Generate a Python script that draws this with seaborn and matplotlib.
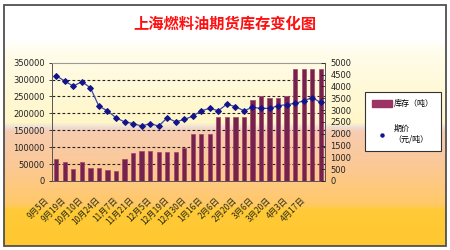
import numpy as np
import pandas as pd
import matplotlib
matplotlib.use("Agg")
import matplotlib.pyplot as plt
import matplotlib.transforms as mtrans
from matplotlib.colors import to_rgb
from matplotlib.patches import Rectangle
from matplotlib.lines import Line2D
import seaborn as sns

# ---------------- data ----------------
dates = ["9月5日", "9月12日", "9月19日", "9月26日", "10月10日", "10月17日", "10月24日", "10月31日",
         "11月7日", "11月14日", "11月21日", "11月28日", "12月5日", "12月12日", "12月19日", "12月26日",
         "12月30日", "1月9日", "1月16日", "1月23日", "2月6日", "2月13日", "2月20日", "2月27日",
         "3月6日", "3月13日", "3月20日", "3月27日", "4月3日", "4月10日", "4月17日", "4月24日"]
stock = [65000, 55000, 36000, 56000, 39000, 39000, 32000, 29000,
         65000, 84000, 89000, 89000, 87000, 87000, 87000, 99000,
         140000, 140000, 140000, 190000, 190000, 190000, 190000, 240000,
         250000, 245000, 245000, 250000, 332000, 332000, 332000, 332000]
price = [4450, 4220, 4010, 4200, 3940, 3160, 2970, 2670,
         2500, 2430, 2320, 2430, 2320, 2670, 2500, 2600,
         2740, 2970, 3070, 2970, 3250, 3140, 2970, 3110,
         3070, 3070, 3180, 3230, 3280, 3390, 3520, 3320]
left_ticks = [0, 50000, 100000, 150000, 200000, 250000, 300000, 350000]
right_ticks = [0, 500, 1000, 1500, 2000, 2500, 3000, 3500, 4000, 4500, 5000]
title = "上海燃料油期货库存变化图"
label_stock = "库存（吨）"
label_price = "期价\n（元/吨）"

df = pd.DataFrame({"date": dates, "stock": stock, "price": price, "pos": np.arange(len(dates))})

# ---------------- figure ----------------
plt.rcParams["font.family"] = ["DejaVu Sans", "Noto Sans CJK SC"]
W, H = 450, 250
fig = plt.figure(figsize=(W / 100, H / 100), dpi=100, facecolor="white")

# background gradient inside the frame
stops = [(5, "#FFFFFF"), (38, "#FFFFFF"), (55, "#FFFCE8"), (122, "#FFF6C8"), (127, "#EDDCD4"),
         (131, "#F7CDB0"), (165, "#FBC896"), (190, "#FFC878"), (204, "#FFC866"), (209, "#FFCA38"),
         (246, "#FFC830")]
rows = np.arange(5, 246)
ys = [s[0] for s in stops]
cols = np.array([to_rgb(s[1]) for s in stops])
grad = np.stack([np.interp(rows, ys, cols[:, k]) for k in range(3)], axis=-1)[:, None, :]
bg = fig.add_axes([4 / W, 4 / H, 442 / W, 241 / H], zorder=-10)
bg.imshow(grad, aspect="auto", extent=[0, 1, 0, 1], origin="upper")
bg.axis("off")
fig.patches.append(Rectangle((4 / W, 4 / H), 442 / W, 241 / H, transform=fig.transFigure,
                             fill=False, ec="#505050", lw=1.3, zorder=5))

fig.text(0.5, 1 - 24 / H, title, color="#FF1010", fontsize=11, fontweight="bold",
         ha="center", va="center", family=["Noto Sans CJK SC"])

ax = fig.add_axes([52 / W, 1 - 181 / H, (325 - 52) / W, (181 - 62.7) / H], zorder=1)
ax.patch.set_alpha(0)

sns.barplot(data=df, x="date", y="stock", ax=ax, color="#74244A", width=0.5,
            edgecolor="#A8406F", linewidth=0.5, saturation=1, zorder=3)
ax.set_xlim(-0.5, len(dates) - 0.5)
ax.set_ylim(0, 350000)
ax.set_yticks(left_ticks)
ax.set_yticklabels([str(v) for v in left_ticks])
ax.set_xlabel("")
ax.set_ylabel("")
for v in left_ticks[1:-1]:
    ax.axhline(v, color="#222222", lw=0.8, ls=(0, (2.5, 2)), zorder=1)
ax.tick_params(axis="y", labelsize=6, length=2.5, width=0.6, pad=2.5, colors="#222222")
ax.tick_params(axis="x", length=0)
for s in ["left", "bottom"]:
    ax.spines[s].set_color("#555555")
    ax.spines[s].set_linewidth(0.7)
ax.spines["top"].set_color("#999999")
ax.spines["top"].set_linewidth(0.8)
ax.spines["right"].set_visible(False)

# x labels: every other date, rotated
ax.set_xticks(df["pos"].values)
ax.set_xticklabels([d if i % 2 == 0 else "" for i, d in enumerate(dates)],
                   rotation=45, ha="right", va="center", rotation_mode="anchor",
                   fontsize=6, color="#2a2a10", family=["Noto Sans CJK SC"])
off = mtrans.ScaledTranslation(-8.5 / 100, -13 / 100, fig.dpi_scale_trans)
for lab in ax.get_xticklabels():
    lab.set_transform(lab.get_transform() + off)

ax2 = ax.twinx()
sns.lineplot(data=df, x="pos", y="price", ax=ax2, color="#3848A8", lw=0.9, marker="D",
             markersize=3.0, markerfacecolor="#14148A", markeredgecolor="#14148A", zorder=4)
ax2.set_ylim(0, 5000)
ax2.set_yticks(right_ticks)
ax2.set_yticklabels([str(v) for v in right_ticks])
ax2.set_ylabel("")
ax2.set_xlim(-0.5, len(dates) - 0.5)
ax2.tick_params(axis="y", labelsize=6, length=3, width=0.6, pad=4, direction="in", colors="#222222")
ax2.spines["right"].set_color("#555555")
ax2.spines["right"].set_linewidth(0.7)
for s in ["left", "top", "bottom"]:
    ax2.spines[s].set_visible(False)

handles = [Rectangle((0, 0), 1, 1, fc="#9B3464", ec="#9B3464"),
           Line2D([], [], ls="none", marker="o", markersize=2.2, color="#14148A")]
leg = fig.legend(handles, [label_stock, label_price], loc="upper left",
                 bbox_to_anchor=(365 / W, 1 - 92 / H), frameon=True,
                 fancybox=False, edgecolor="#333333", handlelength=2.4, handleheight=0.8,
                 labelspacing=2.0, borderpad=0.9, handletextpad=0.25, borderaxespad=0,
                 prop={"family": ["Noto Sans CJK SC"], "size": 5.8})
leg.get_frame().set_linewidth(0.8)
leg.get_frame().set_facecolor("white")
leg.get_frame().set_alpha(1)

fig.savefig("out.png", dpi=100, facecolor="white")
